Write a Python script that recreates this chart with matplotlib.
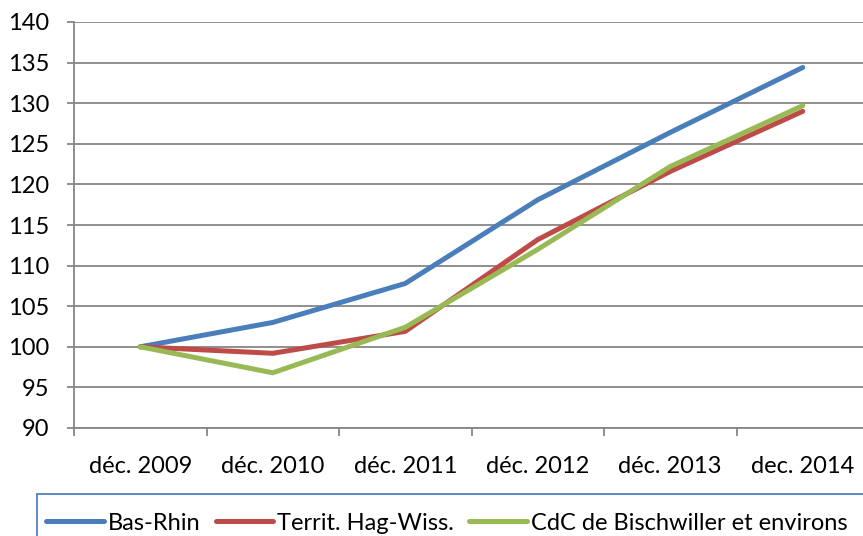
import matplotlib.pyplot as plt
from matplotlib.patches import Rectangle

# categories and index values (base 100 = déc. 2009)
categories = ["déc. 2009", "déc. 2010", "déc. 2011", "déc. 2012", "déc. 2013", "dec. 2014"]
bas_rhin = [100, 103.0, 107.8, 118.1, 126.4, 134.4]
territ_hag_wiss = [100, 99.2, 101.9, 113.2, 121.6, 129.0]
cdc_bischwiller = [100, 96.8, 102.4, 112.0, 122.2, 129.7]

series_names = ["Bas-Rhin", "Territ. Hag-Wiss.", "CdC de Bischwiller et environs"]
colors = ["#4A7EBB", "#BE4B48", "#98B954"]

plt.rcParams['font.family'] = ['Lato', 'DejaVu Sans']

fig = plt.figure(figsize=(8.63, 5.36), dpi=100)
ax = fig.add_axes([74 / 863, 1 - 428 / 536, 795 / 863, 406 / 536])

x = list(range(len(categories)))
for vals, name, c in zip([bas_rhin, territ_hag_wiss, cdc_bischwiller], series_names, colors):
    ax.plot(x, vals, color=c, lw=3.6, label=name, solid_capstyle='round', solid_joinstyle='round')

ax.set_xlim(-0.5, len(categories) - 0.5)
ax.set_ylim(90, 140)
ax.set_yticks(range(90, 141, 5))
ax.grid(axis='y', color='#868686', lw=1.3)
ax.set_axisbelow(True)

for side in ['top', 'right']:
    ax.spines[side].set_visible(False)
ax.spines['left'].set_color('#868686')
ax.spines['left'].set_linewidth(1.3)
ax.spines['bottom'].set_color('#868686')
ax.spines['bottom'].set_linewidth(1.3)

ax.set_xticks(x)
ax.set_xticklabels(categories)
ax.set_xticks([i - 0.5 for i in range(len(categories) + 1)], minor=True)
ax.tick_params(axis='x', which='major', length=0, pad=20, labelsize=17)
ax.tick_params(axis='x', which='minor', length=6, width=1.3, color='#868686', direction='out')
ax.tick_params(axis='y', length=5, width=1.3, color='#868686', pad=13, labelsize=17)

# legend box at the bottom
fig.patches.append(Rectangle((37 / 863, -0.05), 0.99, 0.05 + 42 / 536, transform=fig.transFigure,
                             fill=False, edgecolor='#4F81BD', lw=1.3))
fig.legend(loc='center left', bbox_to_anchor=(46 / 863, 13 / 536), ncol=3, frameon=False,
           fontsize=17, handlelength=2.45, handletextpad=0.17, columnspacing=0.64, borderpad=0,
           borderaxespad=0)

fig.savefig("out.png", dpi=100)
